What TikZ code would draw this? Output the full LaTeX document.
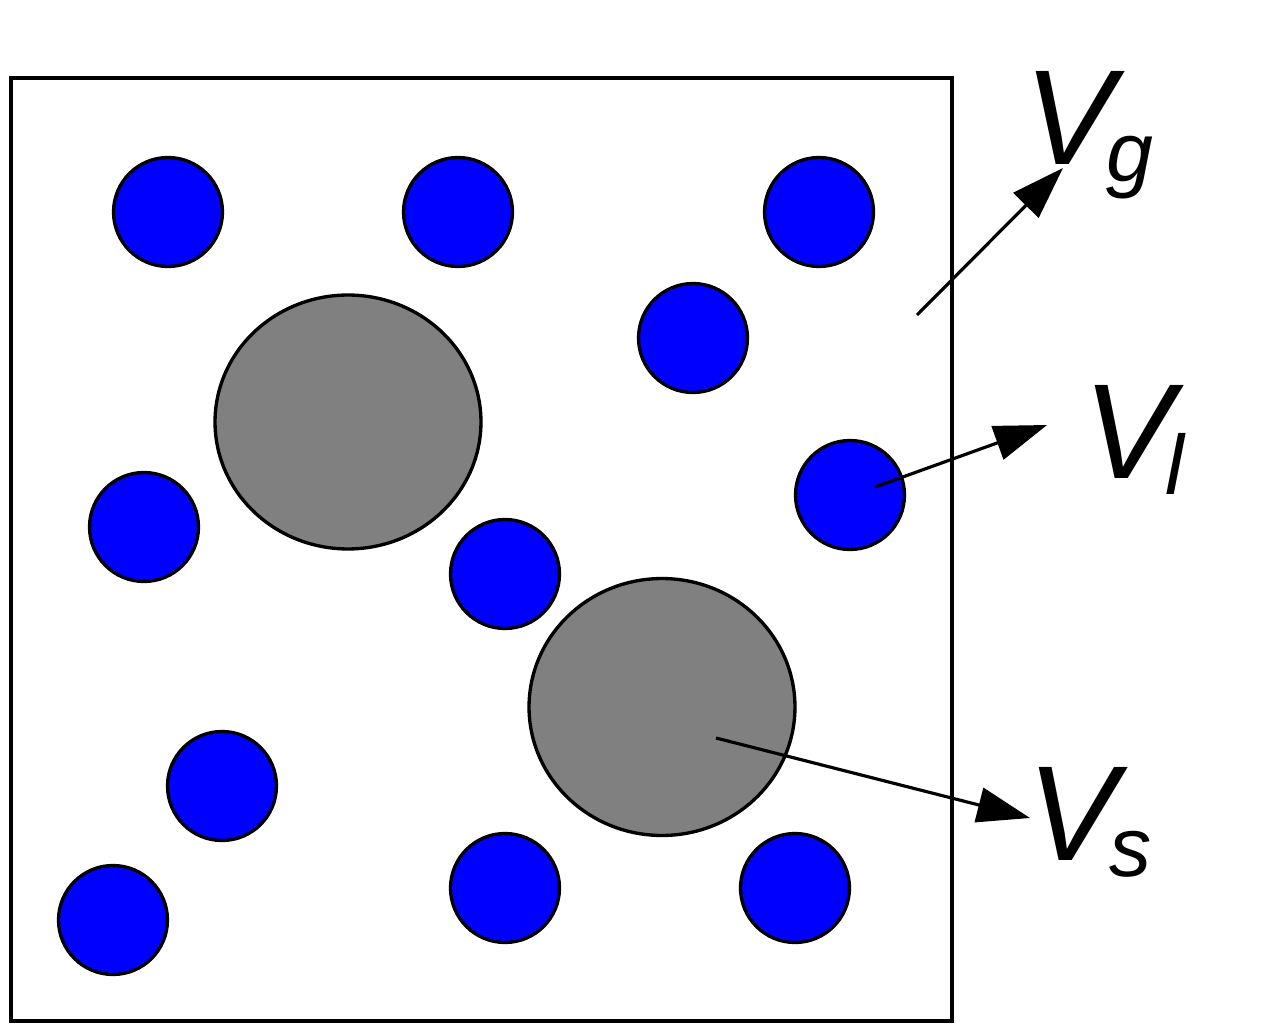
\documentclass[tikz,border=0pt]{standalone}
\usepackage{fontspec}
\setmainfont{Liberation Sans}
\usetikzlibrary{arrows.meta,shapes.geometric}
\tikzset{
  ball/.style={circle,draw=black,fill=blue,line width=1.9pt,minimum size=2.18cm,inner sep=0pt},
  grain/.style={ellipse,draw=black,fill={rgb,255:red,128;green,128;blue,128},line width=1.9pt,inner sep=0pt},
  vel/.style={line width=1.8pt,-{Triangle[length=30pt,width=20pt]}},
  lbl/.style={anchor=base west,inner sep=0pt,font=\fontsize{77}{80}\selectfont\itshape},
}
\newcommand{\subl}[1]{\kern-4.5pt\raisebox{-9.5pt}{\fontsize{48}{50}\selectfont #1}}
\begin{document}
\begin{tikzpicture}[x=0.02cm,y=-0.02cm]
\useasboundingbox (0,0) rectangle (1279,1034);
\node[draw=black,line width=1.9pt,minimum width=18.82cm,minimum height=18.86cm,inner sep=0pt] (box) at (481.5,549.5) {};
\node[grain,minimum width=5.32cm,minimum height=5.08cm] (g1) at (348,422) {};
\node[grain,minimum width=5.32cm,minimum height=5.14cm] (g2) at (662,707) {};
\node[ball] (b1) at (168,212) {};
\node[ball] (b2) at (458,212) {};
\node[ball] (b3) at (819,212) {};
\node[ball] (b4) at (693,338) {};
\node[ball] (b5) at (850,495) {};
\node[ball] (b6) at (144,527) {};
\node[ball] (b7) at (505,574) {};
\node[ball] (b8) at (222,786) {};
\node[ball] (b9) at (113,920) {};
\node[ball] (b10) at (505,888) {};
\node[ball] (b11) at (795,888) {};
\coordinate (sg) at (917,315);
\coordinate (tg) at (1063,168);
\coordinate (sl) at (875,487);
\coordinate (tl) at (1047,425);
\coordinate (ss) at (716,738);
\coordinate (ts) at (1030,818);
\draw[vel] (sg) -- (tg);
\draw[vel] (sl) -- (tl);
\draw[vel] (ss) -- (ts);
\node[lbl] (Vg) at (1024,165) {V\subl{g}};
\node[lbl] (Vl) at (1083,478) {V\subl{l}};
\node[lbl] (Vs) at (1027,860) {V\subl{s}};
\end{tikzpicture}
\end{document}
